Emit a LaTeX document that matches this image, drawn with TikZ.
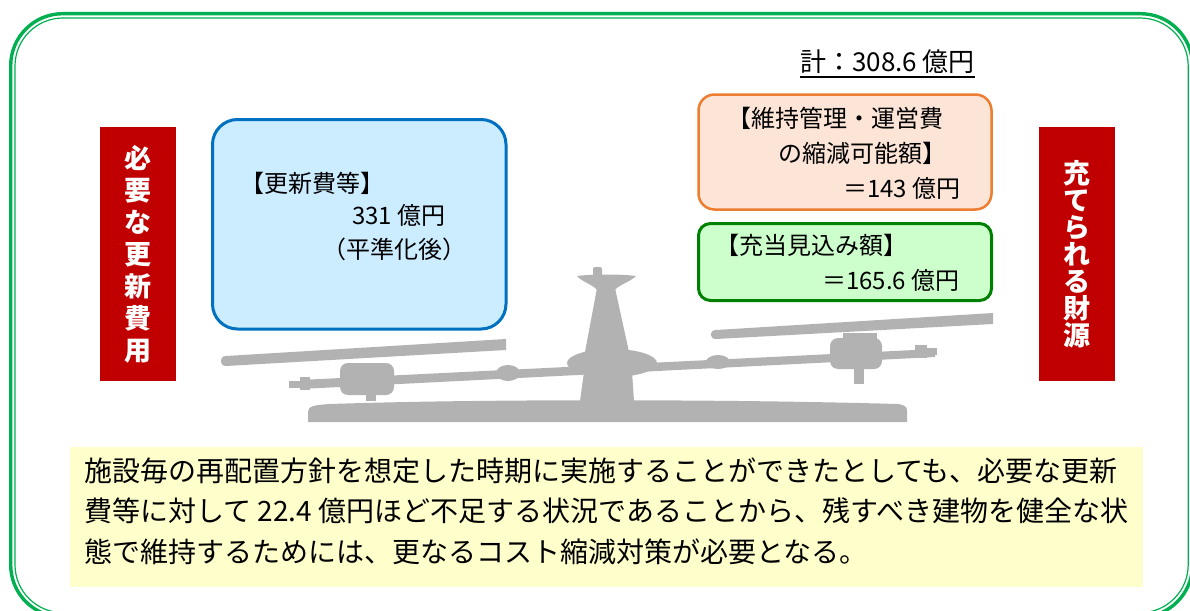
\documentclass[tikz,border=0pt]{standalone}
\usepackage{fontspec}
\usepackage{tikz}
\usetikzlibrary{positioning}

\newfontfamily\gothic{Noto Sans CJK JP}

\definecolor{framegreen}{RGB}{0,176,80}
\definecolor{costred}{RGB}{192,0,0}
\definecolor{costblue}{RGB}{0,112,192}
\definecolor{costbluefill}{RGB}{204,236,255}
\definecolor{cutorange}{RGB}{237,125,49}
\definecolor{cutorangefill}{RGB}{252,228,214}
\definecolor{fundgreen}{RGB}{0,128,0}
\definecolor{fundgreenfill}{RGB}{204,255,204}
\definecolor{notefill}{RGB}{255,255,204}
\definecolor{scalegray}{RGB}{178,178,178}

\tikzset{
  redtag/.style={fill=costred, text=white, minimum width=76pt, minimum height=254pt, inner sep=0pt, align=center},
  boxtext/.style={anchor=west, inner sep=0pt, font=\gothic\fontsize{24}{24}\selectfont},
  partgray/.style={fill=scalegray}
}

\begin{document}
\begin{tikzpicture}[x=1pt,y=-1pt]
	\useasboundingbox (0,0) rectangle (1190,610);

	%% Frame %%
	\draw [framegreen, line width=3.4pt, rounded corners=52pt] (10.7,13.7) rectangle (1192.5,617);
	\draw [framegreen, line width=1.2pt, rounded corners=48pt] (15,18) rectangle (1188.2,612.7);

	%% Scale Base and Pillar %%
	\fill [partgray] (308,422) -- (308,412) .. controls (308,406) and (314,405) .. (330,404) .. controls (480,399) and (720,399) .. (898,404) .. controls (905,405) and (907,407) .. (907,411) -- (907,422) -- cycle;
	\fill [partgray] (580,401) -- (584,372) -- (632,372) -- (634,401) -- cycle;
	\fill [partgray] (597,288) -- (615,288) -- (629,352) -- (585,352) -- cycle;
	\fill [partgray] (577,276) .. controls (592,274) and (621,274) .. (636,276) .. controls (630,282) and (618,285) .. (614,291) -- (598,291) .. controls (594,285) and (582,282) .. (577,276) -- cycle;
	\fill [partgray, rounded corners=2pt] (593,277) rectangle (602,267);
	\fill [partgray] (612,363) ellipse [x radius=45pt, y radius=14pt];
	%% Beam %%
	\fill [partgray] (300,380) -- (935,349) -- (935,357) -- (300,389) -- cycle;
	\fill [partgray] (508,373) ellipse [x radius=12pt, y radius=8pt];
	\fill [partgray] (718,362) ellipse [x radius=12pt, y radius=7pt];
	%% Left Pan %%
	\fill [partgray, rounded corners=8pt] (340,363) rectangle (394,395);
	\fill [partgray] (366,393) rectangle (376,401);
	\fill [partgray] (300,377) rectangle (310,390);
	\fill [partgray] (289,381) rectangle (300,388);
	\fill [partgray] (226,356) -- (506,339) -- (506,350) -- (226,366) .. controls (219,366) and (219,356) .. (226,356) -- cycle;
	%% Right Pan %%
	\fill [partgray, rounded corners=8pt] (830,338) rectangle (882,369);
	\fill [partgray] (843,333) rectangle (877,340);
	\fill [partgray] (854,368) rectangle (864,384);
	\fill [partgray] (915,345) rectangle (927,358);
	\fill [partgray] (927,348) rectangle (937,355);
	\fill [partgray] (716,330) -- (993,313) -- (993,324) -- (716,339) .. controls (709,339) and (709,330) .. (716,330) -- cycle;

	%% Side Tags %%
	\node [redtag, font=\gothic\bfseries\fontsize{27}{32}\selectfont] (needtag) at (138,254) {必\\要\\な\\更\\新\\費\\用};
	\node [redtag, font=\gothic\bfseries\fontsize{27}{27}\selectfont] (fundtag) at (1076.5,254) {充\\て\\ら\\れ\\る\\財\\源};

	%% Renewal Cost Box %%
	\draw [costblue, fill=costbluefill, line width=3pt, rounded corners=25pt] (212.5,119.5) rectangle (506,329);
	\node [boxtext] (renewhead) at (240,183) {【更新費等】};
	\node [boxtext] (renewsum) at (352,215) {331 億円};
	\node [boxtext] (renewnote) at (322,249) {（平準化後）};

	%% Funding Boxes %%
	\node [boxtext, font=\gothic\fontsize{26}{26}\selectfont] (total) at (800,62) {計：308.6 億円};
	\draw [line width=2pt] ([yshift=-3pt]total.south west) -- ([yshift=-3pt]total.south east);
	\draw [cutorange, fill=cutorangefill, line width=2.5pt, rounded corners=16pt] (698.5,94.5) rectangle (991.5,209.5);
	\node [boxtext] (cuthead) at (727,118) {【維持管理・運営費};
	\node [boxtext] (cuthead2) at (778,153) {の縮減可能額】};
	\node [boxtext] (cutsum) at (843,188) {＝143 億円};
	\draw [fundgreen, fill=fundgreenfill, line width=3pt, rounded corners=12pt] (698.5,223.5) rectangle (991.5,300.5);
	\node [boxtext] (allothead) at (715,245) {【充当見込み額】};
	\node [boxtext] (allotsum) at (822,280) {＝165.6 億円};

	%% Note %%
	\fill [notefill] (70,447) rectangle (1143,587);
	\node [anchor=west, inner sep=0pt, align=left, font=\gothic\fontsize{28}{40.5}\selectfont] (note) at (84,511) {施設毎の再配置方針を想定した時期に実施することができたとしても、必要な更新\\費等に対して 22.4 億円ほど不足する状況であることから、残すべき建物を健全な状\\態で維持するためには、更なるコスト縮減対策が必要となる。};

\end{tikzpicture}
\end{document}
